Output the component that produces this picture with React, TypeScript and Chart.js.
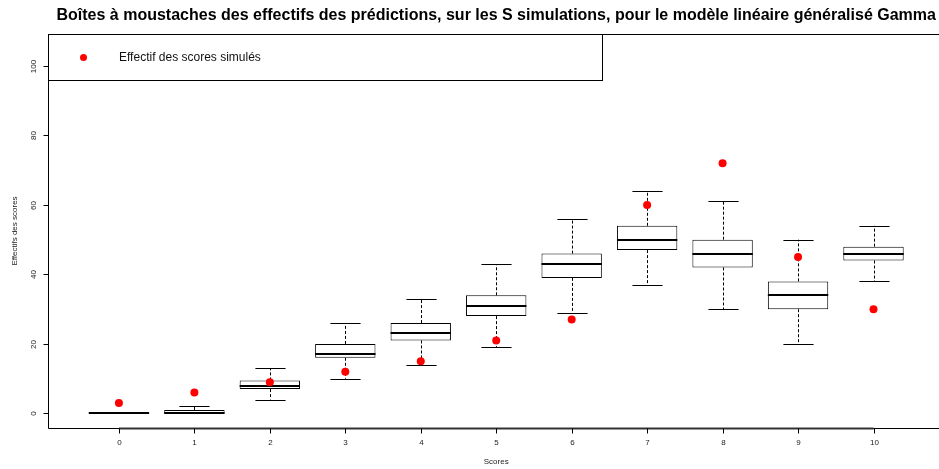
import React, { useEffect, useRef } from "react";
import { Chart, registerables } from "chart.js";

Chart.register(...registerables);

const scores = [0, 1, 2, 3, 4, 5, 6, 7, 8, 9, 10];
const whiskerLow = [0, 0, 4, 10, 14, 19, 29, 37, 30, 20, 38];
const q1 = [0, 0, 7, 16, 21, 28, 39, 47, 42, 30, 44];
const medians = [0, 0, 8, 17, 23, 31, 43, 50, 46, 34, 46];
const q3 = [0, 1, 9.5, 20, 26, 34, 46, 54, 50, 38, 48];
const whiskerHigh = [0, 2, 13, 26, 33, 43, 56, 64, 61, 50, 54];
const observed = [3, 6, 9, 12, 15, 21, 27, 60, 72, 45, 30];
const yTicks = [0, 20, 40, 60, 80, 100];
const xTickLabels = ["0", "1", "2", "3", "4", "5", "6", "7", "8", "9", "10"];

const titleText =
  "Boîtes à moustaches des effectifs des prédictions, sur les S simulations, pour le modèle linéaire généralisé Gamma";
const xTitle = "Scores";
const yTitle = "Effectifs des scores";
const legendLabel = "Effectif des scores simulés";

const FONT = '"Liberation Sans", Arial, Helvetica, sans-serif';

const rPlugin = {
  id: "rBoxplot",
  beforeDatasetsDraw(chart: any) {
    const ctx = chart.ctx;
    const xs = chart.scales.x;
    const ys = chart.scales.y;
    const halfCap = xs.getPixelForValue(0.2) - xs.getPixelForValue(0);
    ctx.save();
    ctx.strokeStyle = "#000";
    ctx.lineWidth = 1;
    scores.forEach((s, i) => {
      const x = Math.round(xs.getPixelForValue(s)) + 0.5;
      const yHi = ys.getPixelForValue(whiskerHigh[i]);
      const yLo = ys.getPixelForValue(whiskerLow[i]);
      const yQ1 = ys.getPixelForValue(q1[i]);
      const yQ3 = ys.getPixelForValue(q3[i]);
      ctx.setLineDash([3, 2]);
      ctx.beginPath();
      ctx.moveTo(x, yQ3);
      ctx.lineTo(x, yHi);
      ctx.moveTo(x, yQ1);
      ctx.lineTo(x, yLo);
      ctx.stroke();
      ctx.setLineDash([]);
      ctx.beginPath();
      const yh = Math.round(yHi) + 0.5;
      const yl = Math.round(yLo) + 0.5;
      ctx.moveTo(x - halfCap, yh);
      ctx.lineTo(x + halfCap, yh);
      ctx.moveTo(x - halfCap, yl);
      ctx.lineTo(x + halfCap, yl);
      ctx.stroke();
    });
    ctx.restore();
  },
  afterDatasetDraw(chart: any, args: any) {
    if (args.index !== 0) return;
    const ctx = chart.ctx;
    const xs = chart.scales.x;
    const ys = chart.scales.y;
    const halfBox = xs.getPixelForValue(0.4) - xs.getPixelForValue(0);
    ctx.save();
    ctx.strokeStyle = "#000";
    ctx.lineWidth = 2;
    scores.forEach((s, i) => {
      const x = xs.getPixelForValue(s);
      const y = Math.round(ys.getPixelForValue(medians[i]));
      ctx.beginPath();
      ctx.moveTo(x - halfBox, y);
      ctx.lineTo(x + halfBox, y);
      ctx.stroke();
    });
    ctx.restore();
  },
  afterDraw(chart: any) {
    const ctx = chart.ctx;
    const xs = chart.scales.x;
    const ys = chart.scales.y;
    const area = chart.chartArea;
    const left = Math.round(area.left) + 0.5;
    const top = Math.round(area.top) + 0.5;
    const bottom = Math.round(area.bottom) + 0.5;
    const right = chart.width + 20;
    ctx.save();
    // frame
    ctx.strokeStyle = "#000";
    ctx.lineWidth = 1;
    ctx.beginPath();
    ctx.moveTo(right, top);
    ctx.lineTo(left, top);
    ctx.lineTo(left, bottom);
    ctx.lineTo(right, bottom);
    ctx.stroke();
    // x axis
    const x0 = xs.getPixelForValue(scores[0]);
    const x1 = xs.getPixelForValue(scores[scores.length - 1]);
    ctx.strokeStyle = "#333";
    ctx.lineWidth = 2;
    ctx.beginPath();
    ctx.moveTo(x0, bottom);
    ctx.lineTo(x1, bottom);
    ctx.stroke();
    ctx.lineWidth = 1;
    ctx.strokeStyle = "#000";
    ctx.fillStyle = "#222";
    ctx.font = `8px ${FONT}`;
    ctx.textAlign = "center";
    ctx.textBaseline = "middle";
    scores.forEach((s, i) => {
      const x = Math.round(xs.getPixelForValue(s)) + 0.5;
      ctx.beginPath();
      ctx.moveTo(x, bottom);
      ctx.lineTo(x, bottom + 5);
      ctx.stroke();
      ctx.fillText(xTickLabels[i], x, bottom + 14.5);
    });
    // y axis ticks
    yTicks.forEach((t) => {
      const y = Math.round(ys.getPixelForValue(t)) + 0.5;
      ctx.beginPath();
      ctx.moveTo(left - 5, y);
      ctx.lineTo(left, y);
      ctx.stroke();
      ctx.save();
      ctx.translate(left - 15, y);
      ctx.rotate(-Math.PI / 2);
      ctx.fillText(String(t), 0, 0);
      ctx.restore();
    });
    // axis titles
    const xMid = xs.getPixelForValue(5);
    ctx.fillText(xTitle, xMid, bottom + 33.5);
    ctx.save();
    ctx.translate(15, (area.top + area.bottom) / 2);
    ctx.rotate(-Math.PI / 2);
    ctx.fillText(yTitle, 0, 0);
    ctx.restore();
    // title
    ctx.fillStyle = "#000";
    ctx.font = `bold 16px ${FONT}`;
    ctx.fillText(titleText, xMid, 16);
    // legend box
    const lgRight = 602.5;
    const lgBottom = 80.5;
    ctx.fillStyle = "#fff";
    ctx.fillRect(left, top, lgRight - left, lgBottom - top);
    ctx.strokeStyle = "#000";
    ctx.strokeRect(left, top, lgRight - left, lgBottom - top);
    ctx.fillStyle = "red";
    ctx.beginPath();
    ctx.arc(83.5, 57.5, 3.5, 0, Math.PI * 2);
    ctx.fill();
    ctx.fillStyle = "#111";
    ctx.font = `12px ${FONT}`;
    ctx.textAlign = "left";
    ctx.fillText(legendLabel, 119, 58);
    ctx.restore();
  },
};

export default function App() {
  const ref = useRef<HTMLCanvasElement | null>(null);
  useEffect(() => {
    if (!ref.current) return;
    const chart = new Chart(ref.current, {
      type: "bar",
      data: {
        datasets: [
          {
            type: "bar",
            label: "Boîtes",
            data: scores.map((s, i) => ({ x: s, y: [q1[i], q3[i]] })) as any,
            backgroundColor: "#fff",
            borderColor: "#000",
            borderWidth: 1,
            borderSkipped: false,
            categoryPercentage: 0.8,
            barPercentage: 1,
            order: 1,
          } as any,
          {
            type: "scatter",
            label: legendLabel,
            data: scores.map((s, i) => ({ x: s, y: observed[i] })),
            backgroundColor: "red",
            borderWidth: 0,
            pointRadius: 4,
            order: 0,
          } as any,
        ],
      },
      options: {
        animation: false,
        responsive: false,
        devicePixelRatio: 1,
        layout: { padding: { left: 48, top: 34, right: 0, bottom: 41 } },
        plugins: {
          legend: { display: false },
          tooltip: { enabled: false },
          title: { display: false },
        },
        scales: {
          x: {
            type: "linear",
            display: false,
            min: -0.94,
            max: 10.815,
            offset: false,
            afterBuildTicks: (scale: any) => {
              scale.ticks = scores.map((v) => ({ value: v }));
            },
          },
          y: { type: "linear", display: false, min: -4.2, max: 109.2 },
        },
      },
      plugins: [rPlugin],
    });
    return () => chart.destroy();
  }, []);
  return (
    <div style={{ position: "absolute", left: 0, top: 0, width: 939, height: 469, background: "#fff" }}>
      <canvas ref={ref} width={939} height={469} style={{ display: "block", width: 939, height: 469 }} />
    </div>
  );
}
